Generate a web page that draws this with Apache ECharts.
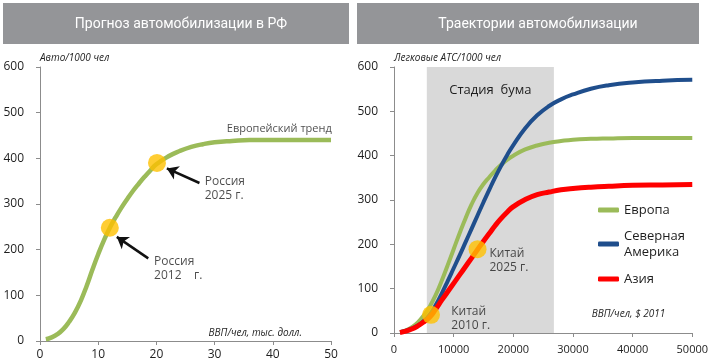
<!DOCTYPE html>
<html><head><meta charset="utf-8">
<script src="https://cdn.jsdelivr.net/npm/echarts@6/dist/echarts.min.js"></script>
<style>html,body{margin:0;padding:0;background:#fff}#c{width:711px;height:364px}</style>
</head><body><div id="c"></div>
<script>
// ---- Left chart data (Russia forecast) ----
const ruX = [1,2,3,4,5,6,7,8,9,10,11,12,13,14,15,16,17,18,19,20,22,24,26,28,30,33,36,40,45,50];
const ruY = [4,8,15,26,42,62,88,120,156,190,221,248,271,292,311,329,345,360,374,387,404,416,425,431,435,438,440,440,440,440];
const ruPoints = [[12,248],[20.1,390]];
const ruArrows = [[[18.6,181],[13.2,228]],[[27.4,346],[21.8,378]]];
const ruLabels = [
  {pos:[19.6,189], text:'Россия\n2012    г.', size:12},
  {pos:[28.3,364], text:'Россия\n2025 г.', size:12},
  {pos:[32.1,480], text:'Европейский тренд', size:11}
];
const leftXTicks = [0,50,10];
const yTicks = [0,600,100];

// ---- Right chart data (trajectories) ----
const gdpX = [1000,2000,3000,4000,5000,6000,7000,8000,9000,10000,11000,12000,13000,14000,15000,16000,17000,18000,19000,20000,22000,24000,26000,28000,30000,33000,36000,40000,45000,50000];
const europe = [2,6,13,24,40,60,86,118,153,189,225,259,290,316,336,352,367,380,391,400,414,423,429,433,436,438,439,440,440,440];
const namerica = [2,5,10,17,27,42,63,89,117,146,175,205,235,265,295,324,352,378,402,424,462,491,512,527,538,551,559,565,569,571];
const asia = [1,4,9,16,25,36,54,74,93,112,131,150,169,188,207,225,243,259,273,285,301,312,318,323,326,329,331,333,334,335];
const chinaPoints = [[6200,41],[14000,189]];
const chinaLabels = [
  {pos:[9600,63], text:'Китай\n2010 г.', size:12},
  {pos:[16000,195], text:'Китай\n2025 г.', size:12}
];
const boom = [5500, 26800];
const rightXTicks = [0,50000,10000];

const pair = (xs, ys) => xs.map((x,i)=>[x, ys[i]]);
const FF = '"Open Sans", "Noto Sans", sans-serif';
const axisColor = '#8c8c8c';
const txt = '#1e1e1e';

function xAx(gi, t, fs, margin, name, gap, pb){
  return {type:'value', gridIndex:gi, min:t[0], max:t[1], interval:t[2],
    axisLine:{show:true, lineStyle:{color:axisColor, width:1}},
    axisTick:{show:true, length:4, lineStyle:{color:axisColor}},
    axisLabel:{fontSize:fs, color:txt, margin:margin, fontFamily:FF, formatter:v=>String(v)},
    splitLine:{show:false},
    name:name, nameLocation:'end', nameGap:gap,
    nameTextStyle:{fontStyle:'italic', fontSize:10, color:txt, fontFamily:FF, align:'right', verticalAlign:'bottom', padding:[0,0,pb,0]}
  };
}
function yAx(gi, name){
  return {type:'value', gridIndex:gi, min:yTicks[0], max:yTicks[1], interval:yTicks[2],
    axisLine:{show:true, lineStyle:{color:axisColor, width:1}},
    axisTick:{show:true, length:4, lineStyle:{color:axisColor}},
    axisLabel:{fontSize:12, color:txt, margin:16, fontFamily:FF},
    splitLine:{show:false},
    name:name, nameLocation:'end', nameGap:4,
    nameTextStyle:{fontStyle:'italic', fontSize:10, color:txt, fontFamily:FF, align:'left', verticalAlign:'bottom'}
  };
}
const textSeries = (xi, items) => ({
  type:'scatter', xAxisIndex:xi, yAxisIndex:xi, symbolSize:0, silent:true, z:10,
  data: items.map(it=>({value:it.pos, label:{formatter:it.text, fontSize:it.size}})),
  label:{show:true, position:[0,0], align:'left', verticalAlign:'top', fontSize:12, lineHeight:14, color:txt, fontFamily:FF}
});
const legendBase = {left:598, orient:'vertical', itemWidth:21, itemHeight:5, icon:'roundRect', padding:0, selectedMode:false,
  textStyle:{fontSize:13, lineHeight:16, color:txt, fontFamily:FF}};

const option = {
  animation:false,
  graphic:[
    {type:'rect', shape:{x:3,y:3,width:346,height:41}, style:{fill:'#949598'}, z:0},
    {type:'rect', shape:{x:357,y:3,width:342,height:41}, style:{fill:'#949598'}, z:0}
  ],
  title:[
    {text:'Прогноз автомобилизации в РФ', left:176, top:12, textAlign:'center', textStyle:{color:'#fff', fontWeight:'normal', fontSize:14, fontFamily:'Roboto, sans-serif'}},
    {text:'Траектории автомобилизации', left:533, top:12, textAlign:'center', textStyle:{color:'#fff', fontWeight:'normal', fontSize:14, fontFamily:'Roboto, sans-serif'}}
  ],
  legend:[
    Object.assign({}, legendBase, {top:202, data:['Европа']}),
    Object.assign({}, legendBase, {top:220, data:['Северная Америка'], formatter:()=> 'Северная\nАмерика',
      textStyle:{fontSize:13, lineHeight:16, color:txt, fontFamily:FF, padding:[16,0,0,0]}}),
    Object.assign({}, legendBase, {top:271, data:['Азия']})
  ],
  grid:[
    {left:40, right:380, top:67, bottom:23},
    {left:394, right:13, top:67, bottom:31}
  ],
  xAxis:[
    xAx(0, leftXTicks, 12, 8, 'ВВП/чел, тыс. долл.', -29, 3),
    xAx(1, rightXTicks, 11, 11, 'ВВП/чел, $ 2011', -27, 14)
  ],
  yAxis:[ yAx(0,'Авто/1000 чел'), yAx(1,'Легковые АТС/1000 чел') ],
  series:[
    {type:'line', name:'Европейский тренд', xAxisIndex:0, yAxisIndex:0, data:pair(ruX, ruY), smooth:true, showSymbol:false,
      lineStyle:{color:'#9bbb59', width:4.5}, itemStyle:{color:'#9bbb59'},
      markLine:{silent:true, symbol:['none','arrow'], symbolSize:11, label:{show:false},
        lineStyle:{color:'#111', width:2.5, type:'solid'},
        data: ruArrows.map(a=>[{coord:a[0]},{coord:a[1]}])}
    },
    {type:'scatter', xAxisIndex:0, yAxisIndex:0, data:ruPoints, symbolSize:18, itemStyle:{color:'#ffc000'}, z:5, silent:true},
    textSeries(0, ruLabels),

    {type:'line', name:'Европа', xAxisIndex:1, yAxisIndex:1, data:pair(gdpX, europe), smooth:true, showSymbol:false,
      lineStyle:{color:'#9bbb59', width:4}, itemStyle:{color:'#9bbb59'},
      markArea:{silent:true, itemStyle:{color:'#d9d9d9'},
        label:{show:true, position:'insideTop', distance:17, color:txt, fontSize:13, fontFamily:FF},
        data:[[{xAxis:boom[0], name:'Стадия  бума'},{xAxis:boom[1]}]]}
    },
    {type:'line', name:'Северная Америка', xAxisIndex:1, yAxisIndex:1, data:pair(gdpX, namerica), smooth:true, showSymbol:false,
      lineStyle:{color:'#1f4e8c', width:4}, itemStyle:{color:'#1f4e8c'}},
    {type:'line', name:'Азия', xAxisIndex:1, yAxisIndex:1, data:pair(gdpX, asia), smooth:true, showSymbol:false,
      lineStyle:{color:'#ff0000', width:5}, itemStyle:{color:'#ff0000'}},
    {type:'scatter', xAxisIndex:1, yAxisIndex:1, data:chinaPoints, symbolSize:18, itemStyle:{color:'#ffc000'}, z:5, silent:true},
    textSeries(1, chinaLabels)
  ]
};
echarts.init(document.getElementById('c')).setOption(option);
</script></body></html>
